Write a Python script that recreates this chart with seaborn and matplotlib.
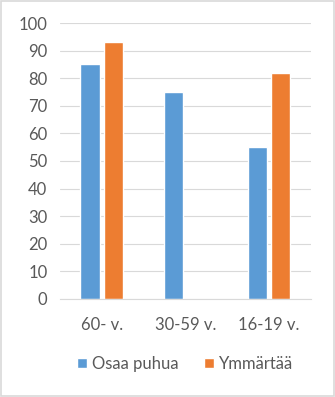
import matplotlib
matplotlib.use("Agg")
import matplotlib.pyplot as plt
import seaborn as sns
import pandas as pd
import numpy as np
from matplotlib.patches import Rectangle

categories = ["60- v.", "30-59 v.", "16-19 v."]
series_names = ["Osaa puhua", "Ymmärtää"]
osaa_puhua = [85, 75, 55]
ymmartaa = [93, np.nan, 82]
yticks = list(range(0, 101, 10))

df = pd.DataFrame({
    "cat": categories * 2,
    "series": [series_names[0]] * 3 + [series_names[1]] * 3,
    "value": osaa_puhua + ymmartaa,
})

sns.set_theme(style="white")
plt.rcParams["font.family"] = ["Lato", "DejaVu Sans"]

fig = plt.figure(figsize=(3.35, 3.97), dpi=100)
ax = fig.add_axes([0.179, 0.247, 0.749, 0.695])
sns.barplot(data=df, x="cat", y="value", hue="series", order=categories,
            hue_order=series_names, palette=["#5b9bd5", "#ed7d31"],
            width=0.56, gap=0.18, ax=ax, legend=True, saturation=1)

ax.set_ylim(0, 100)
ax.set_yticks(yticks)
ax.set_xlabel("")
ax.set_ylabel("")
ax.yaxis.grid(True, color="#d9d9d9", linewidth=0.8)
ax.set_axisbelow(True)
for s in ["top", "right", "left"]:
    ax.spines[s].set_visible(False)
ax.spines["bottom"].set_color("#d9d9d9")
ax.spines["bottom"].set_linewidth(0.8)
ax.tick_params(axis="both", length=0, labelsize=12, colors="#595959", pad=9)
ax.tick_params(axis="x", pad=13)

handles, labels = ax.get_legend_handles_labels()
ax.legend(handles, labels, loc="center", bbox_to_anchor=(0.5, -0.235),
          ncol=2, frameon=False, fontsize=12, labelcolor="#595959",
          handlelength=0.6, handleheight=0.6, handletextpad=0.3, columnspacing=1.5)

fig.patches.append(Rectangle((0.003, 0.003), 0.994, 0.994, transform=fig.transFigure,
                             fill=False, edgecolor="#d9d9d9", linewidth=1.2))
fig.savefig("out.png", dpi=100)
